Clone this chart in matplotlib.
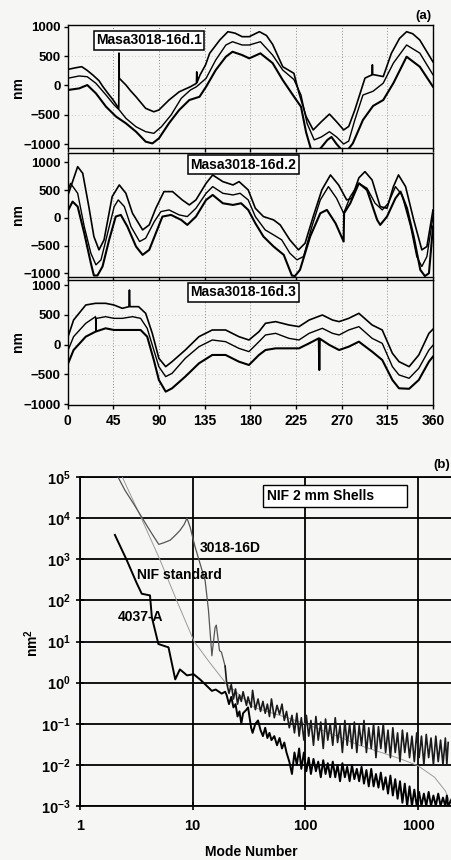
import matplotlib
matplotlib.use("Agg")
import matplotlib.pyplot as plt
from matplotlib.patches import Rectangle

plt.rcParams["font.family"] = ["Liberation Sans", "DejaVu Sans"]
plt.rcParams["font.weight"] = "bold"
plt.rcParams["mathtext.fontset"] = "custom"
plt.rcParams["mathtext.rm"] = "Liberation Sans:bold"
plt.rcParams["mathtext.it"] = "Liberation Sans:bold"
plt.rcParams["mathtext.bf"] = "Liberation Sans:bold"

BG = "#f6f7f5"

# ---- panel (a): three shells, three traces each (nm vs angle in degrees) ----
p1_top_deg = [0, 8, 14, 19, 25, 31, 35, 40, 45, 50.5, 50.7, 51.0, 57.6, 62, 67.5, 77, 85, 90, 100, 110,
              121, 127, 127.3, 127.6, 130.5, 136, 140, 150, 158, 165, 172, 179, 189, 196, 202, 212, 223, 228, 235, 242,
              250, 258, 265, 272, 277, 283, 293, 300, 300.3, 300.6, 311, 319, 327, 334, 340, 347, 353, 360]
p1_top_nm = [270, 300, 318, 260, 176, 80, -24, -140, -250, -392, 550, 120, 5, -90, -195, -392, -450, -420, -250, -110,
             -24, 35, 230, 50, 176, 350, 546, 773, 915, 890, 830, 830, 915, 850, 700, 318, 205, -130, -530, -760,
             -620, -490, -620, -760, -700, -420, 124, 180, 350, 185, 150, 546, 800, 915, 880, 773, 600, 400]
p1_mid_deg = [0, 11.5, 19.5, 28, 38, 46, 51, 57.6, 67.5, 77, 85, 92.5, 102, 112, 121, 127, 136.5, 146, 156, 162.5,
              172, 179, 190, 202, 212, 223, 230, 236, 243, 250, 258, 265, 272, 277, 283, 291, 301, 311, 321, 334,
              347, 360]
p1_mid_nm = [120, 160, 147, 35, -165, -335, -420, -563, -706, -790, -818, -706, -506, -222, -80, -24, 120, 432, 688, 744,
             688, 688, 744, 517, 261, 100, -165, -650, -930, -880, -790, -880, -1000, -950, -590, -165, -100, 38, 380, 688,
             550, 180]
p1_bot_deg = [0, 11.5, 19.5, 28, 38, 48, 57.6, 67.5, 77, 83.6, 90, 100, 110, 120, 130, 136.5, 146, 156, 162.5, 172,
              179, 190, 202, 212, 222, 230, 235, 240, 248, 256, 260, 265, 270, 276, 281, 291, 301, 311, 321, 334,
              347, 360]
p1_bot_nm = [-80, -52, 5, -136, -365, -535, -648, -790, -960, -990, -905, -645, -420, -250, -195, -24, 261, 488, 573, 517,
             460, 546, 380, 90, -165, -365, -800, -1100, -1100, -930, -880, -1000, -1100, -1100, -990, -590, -350, -250, 38, 488,
             318, -24]

p2_top_deg = [0, 10, 15, 21, 26, 31, 36, 44, 51, 57.5, 64, 74, 80.5, 87, 95, 103.5, 113, 120, 126.5, 136.5,
              143, 153, 163, 169, 178, 185, 193, 203, 209.5, 219, 227.5, 234, 242, 250.5, 259, 267, 275, 280, 287, 293,
              300, 308, 314.7, 321, 326, 333, 341, 349, 354, 360]
p2_top_nm = [382, 922, 802, 202, -338, -578, -398, 382, 592, 442, 82, -218, -128, 172, 472, 472, 322, 232, 322, 622,
             772, 652, 592, 652, 502, 172, 22, -38, -128, -398, -578, -458, 22, 502, 772, 592, 322, 352, 720, 832,
             682, 202, 172, 562, 772, 562, -38, -578, -518, 142]
p2_mid_deg = [0, 3, 10, 16.5, 23, 28, 33, 39.5, 46, 50, 56, 62.5, 71, 77, 85.5, 92, 100, 110, 118, 126.5,
              136.5, 143, 153, 163, 170, 178, 185, 194.7, 203, 211, 219, 226, 232.5, 240.7, 249, 257, 265, 272, 278.5, 287,
              295, 303, 310, 316, 323, 329.5, 338, 344, 349, 354, 360]
p2_mid_nm = [472, 622, 442, -158, -638, -848, -758, -278, 202, 322, 202, -158, -428, -368, -68, 112, 142, 52, 22, 172,
             442, 562, 442, 412, 442, 322, 22, -218, -308, -398, -638, -758, -698, -158, 322, 562, 352, 82, 382, 622,
             532, 262, 142, 262, 562, 412, -158, -698, -878, -698, 22]
p2_bot_deg = [0, 5, 10, 16.5, 23, 26, 29.5, 34.5, 41, 47.5, 52.5, 59, 67.5, 74, 80.5, 87, 93.5, 102, 112, 118,
              126.5, 136.5, 143, 153, 163, 171, 178, 185, 193, 203, 213, 221, 224, 229, 239, 249, 255.5, 264, 272, 272.4,
              278.5, 287, 295, 305, 308, 314.7, 323, 328, 334.4, 341, 347.5, 352, 356, 360]
p2_bot_nm = [112, 292, 202, -278, -818, -1040, -1040, -878, -398, 22, 52, -158, -518, -668, -578, -278, 22, 52, -38, -128,
             22, 322, 412, 262, 232, 262, 142, -98, -338, -518, -668, -1040, -1050, -938, -338, 82, 142, -98, -428, 82,
             262, 622, 502, -38, -128, 22, 352, 472, 172, -338, -938, -1050, -1000, -158]

p3_top_deg = [0, 6, 18, 27.6, 37.5, 45.7, 54, 60.5, 61, 61.5, 70, 77, 83.5, 90, 96.7, 103, 116, 129.5, 142.6, 155.7,
              168.8, 178.7, 188.6, 195, 205, 218, 228, 238, 251, 261, 267.5, 277, 287, 300, 310, 320, 326.5, 336.5, 346, 356,
              360]
p3_top_nm = [106, 413, 665, 693, 693, 665, 609, 637, 916, 637, 637, 525, 190, -229, -369, -285, -90, 134, 246, 246,
             134, 78, 218, 358, 386, 330, 302, 413, 497, 413, 386, 441, 525, 330, 246, -145, -285, -369, -173, 190,
             260]
p3_mid_deg = [0, 6, 18, 27.6, 28, 28.4, 37.5, 45.7, 54, 64, 72, 78.5, 85, 90, 96.7, 103, 116, 129.5, 142.6, 155.7,
              168.8, 178.7, 188.6, 195, 205, 218, 228, 238, 251, 261, 267.5, 277, 287, 300, 310, 320, 326.5, 336.5, 346, 356,
              360]
p3_mid_nm = [-117, 134, 358, 469, 230, 440, 469, 441, 441, 469, 441, 274, -90, -369, -536, -481, -229, -34, 78, 50,
             -62, -117, 50, 162, 190, 106, 78, 190, 274, 190, 162, 246, 302, 106, 22, -369, -508, -564, -397, -90,
             -10]
p3_bot_deg = [0, 6, 18, 27.6, 37.5, 45.7, 54, 64, 72, 78.5, 85, 90, 96.7, 103, 116, 129.5, 142.6, 155.7, 168.8, 178.7,
              188.6, 195, 205, 218, 228, 238, 247.5, 248, 248.5, 258, 267.5, 277, 287, 300, 310, 320, 326.5, 336.5, 346, 356,
              360]
p3_bot_nm = [-341, -90, 134, 218, 274, 246, 246, 246, 246, 134, -257, -592, -788, -732, -536, -313, -173, -173, -285, -341,
             -173, -90, -62, -62, -62, 22, 106, -425, 100, -6, -90, -34, 50, -117, -257, -592, -732, -740, -592, -285,
             -200]

shell_names = ["Masa3018-16d.1", "Masa3018-16d.2", "Masa3018-16d.3"]
angle_ticks = [0, 45, 90, 135, 180, 225, 270, 315, 360]
nm_ticks = [-1000, -500, 0, 500, 1000]

# ---- panel (b): power spectra (nm^2 vs mode number) ----
s3018_low_modes = [2.1, 2.5, 3.0, 3.5, 4.0, 4.5, 5.0, 5.5, 6.3, 7.0, 7.7, 8.4, 8.9, 9.5, 10.5, 11.6, 12.9, 13.8,
                   14.8, 15.8, 16.2, 17.3, 18.0, 19.4]
s3018_low = [1.2e5, 4.8e4, 2.2e4, 1.1e4, 6.0e3, 3.6e3, 2.3e3, 2.5e3, 2.9e3, 3.8e3, 5.0e3, 7.0e3, 1.0e4, 6.0e3,
             2.0e3, 8.0e2, 3.0e2, 58, 4.5, 22, 25, 6.0, 5.5, 2.5]
a4037_low_modes = [2.04, 2.6, 3.19, 3.53, 4.18, 4.34, 4.96, 6.1, 7.0, 7.7, 8.9, 10.2, 11.6, 12.8, 14.8, 16.0, 18.1, 19.4]
a4037_low = [3.9e3, 9.5e2, 2.6e2, 1.45e2, 1.32e2, 39, 8.7, 7.2, 1.2, 2.1, 1.5, 1.6, 1.2, 0.93, 0.63, 0.68, 0.54, 0.6]

band_modes = [20, 21, 22, 23, 24, 25, 26, 27, 28, 30, 31, 33, 34, 36, 38, 40, 42, 44, 46, 48,
              50, 53, 56, 59, 62, 65, 68, 72, 76, 80, 84, 88, 92, 97, 102, 107, 112, 118, 124, 130,
              137, 144, 151, 158, 166, 175, 184, 193, 203, 213, 224, 235, 247, 259, 272, 286, 300, 315, 331, 348,
              365, 384, 403, 423, 445, 467, 491, 515, 541, 568, 597, 627, 658, 691, 726, 762, 800, 840, 882, 926,
              973, 1021, 1072, 1126, 1182, 1241, 1303, 1368, 1437, 1509, 1584, 1663, 1746, 1800, 1850, 1990]
s3018_band = [1.0, 0.55, 0.9, 0.4, 0.7, 0.3, 0.5, 0.35, 0.6, 0.28, 0.45, 0.25, 0.65, 0.22, 0.4, 0.2, 0.35, 0.18, 0.3, 0.15,
              0.4, 0.14, 0.28, 0.17, 0.3, 0.12, 0.2, 0.08, 0.16, 0.06, 0.18, 0.05, 0.14, 0.04, 0.16, 0.05, 0.12, 0.03, 0.15, 0.04,
              0.11, 0.025, 0.13, 0.04, 0.1, 0.03, 0.14, 0.035, 0.09, 0.02, 0.12, 0.03, 0.1, 0.025, 0.11, 0.02, 0.09, 0.03, 0.12, 0.02,
              0.08, 0.025, 0.1, 0.015, 0.085, 0.025, 0.1, 0.02, 0.07, 0.015, 0.08, 0.02, 0.06, 0.012, 0.07, 0.02, 0.06, 0.015, 0.05, 0.012,
              0.06, 0.015, 0.05, 0.01, 0.055, 0.015, 0.045, 0.01, 0.05, 0.012, 0.04, 0.01, 0.045, 0.01, 0.035]
a4037_band = [0.5, 0.3, 0.45, 0.25, 0.3, 0.15, 0.2, 0.1, 0.18, 0.22, 0.25, 0.08, 0.06, 0.1, 0.12, 0.07, 0.05, 0.08, 0.045, 0.06,
              0.04, 0.05, 0.03, 0.045, 0.025, 0.035, 0.02, 0.012, 0.006, 0.02, 0.01, 0.025, 0.008, 0.02, 0.007, 0.015, 0.006, 0.014, 0.007, 0.012,
              0.005, 0.013, 0.006, 0.011, 0.005, 0.012, 0.005, 0.01, 0.004, 0.011, 0.005, 0.009, 0.004, 0.01, 0.0045, 0.008, 0.004, 0.009, 0.0035, 0.0075,
              0.003, 0.008, 0.003, 0.006, 0.0028, 0.0065, 0.0025, 0.005, 0.002, 0.0055, 0.0018, 0.0045, 0.0015, 0.004, 0.0012, 0.0035, 0.001, 0.003, 0.001, 0.0025,
              0.001, 0.0022, 0.001, 0.002, 0.001, 0.0022, 0.001, 0.0018, 0.001, 0.002, 0.001, 0.0016, 0.001, 0.0018, 0.001, 0.0015]
nif_modes = [2.3, 3.5, 5.1, 7.2, 10.3, 14, 19.5, 35, 69, 100, 150, 200, 300, 500, 700, 1000, 1400, 1750, 1950]
nif_std = [1.2e5, 1.0e4, 1.0e3, 1.0e2, 10, 3.2, 1.0, 0.25, 0.14, 0.1, 0.065, 0.048, 0.03, 0.019, 0.014, 0.0095,
           0.005, 0.0023, 0.0011]

decades = [1e-3, 1e-2, 1e-1, 1e0, 1e1, 1e2, 1e3, 1e4, 1e5]
decade_labels = [r"$10^{-3}$", r"$10^{-2}$", r"$10^{-1}$", r"$10^{0}$", r"$10^{1}$", r"$10^{2}$",
                 r"$10^{3}$", r"$10^{4}$", r"$10^{5}$"]
mode_ticks = [1, 10, 100, 1000]


W, H = 452, 860


def box(left, top, right, bottom):
    # pixel box -> figure fraction rect
    return [left / W, 1 - bottom / H, (right - left) / W, (bottom - top) / H]


def shell_panel(fig, rect, ylim, traces, name, label_xy, last):
    ax = fig.add_axes(rect)
    ax.set_facecolor(BG)
    for deg, nm, lw in traces:
        ax.plot(deg, nm, color="black", lw=lw, solid_joinstyle="round")
    ax.set_xlim(0, 360)
    ax.set_ylim(*ylim)
    ax.set_xticks(angle_ticks)
    ax.set_yticks(nm_ticks)
    for v in angle_ticks[1:-1]:
        ax.axvline(v, color="#8a8a8a", lw=0.7, ls=(0, (1, 2)), zorder=0)
    for v in [-500, 0, 500]:
        ax.axhline(v, color="#bdbdbd", lw=0.6, ls=(0, (1, 3)), zorder=0)
    ax.tick_params(axis="y", labelsize=9.5, length=3, width=1, pad=2)
    ax.tick_params(axis="x", labelsize=10, length=3, width=1, labelbottom=last)
    for s in ax.spines.values():
        s.set_linewidth(1.0)
    ax.text(*label_xy, name, transform=ax.transAxes, ha="center", va="center", fontsize=10,
            bbox=dict(boxstyle="square,pad=0.18", facecolor="white", edgecolor="black", lw=1.1))
    return ax


def main():
    fig = plt.figure(figsize=(W / 100, H / 100), dpi=100)
    fig.patch.set_facecolor(BG)

    shell_panel(fig, box(67.5, 25, 433, 148), (-1068, 1029),
                [(p1_top_deg, p1_top_nm, 1.2), (p1_mid_deg, p1_mid_nm, 1.0), (p1_bot_deg, p1_bot_nm, 1.5)],
                shell_names[0], (0.223, 0.878), False)
    shell_panel(fig, box(67.5, 153, 433, 277), (-1067, 1168),
                [(p2_top_deg, p2_top_nm, 1.2), (p2_mid_deg, p2_mid_nm, 1.0), (p2_bot_deg, p2_bot_nm, 1.5)],
                shell_names[1], (0.481, 0.907), False)
    shell_panel(fig, box(67.5, 280, 433, 405), (-1012, 1084),
                [(p3_top_deg, p3_top_nm, 1.2), (p3_mid_deg, p3_mid_nm, 1.0), (p3_bot_deg, p3_bot_nm, 1.5)],
                shell_names[2], (0.481, 0.9), True)
    for yc in [88, 215, 342]:
        fig.text(18 / W, 1 - yc / H, "nm", rotation=90, ha="center", va="center", fontsize=10)
    fig.text(423 / W, 1 - 16 / H, "(a)", ha="center", va="center", fontsize=9.5)

    # ---- (b) ----
    ax = fig.add_axes(box(80, 477, 452, 806))
    ax.set_facecolor(BG)
    ax.set_xscale("log")
    ax.set_yscale("log")
    ax.set_xlim(1, 2000)
    ax.set_ylim(1e-3, 1e5)
    ax.plot(nif_modes, nif_std, color="#9a9a9a", lw=0.7, zorder=3)
    ax.plot(s3018_low_modes, s3018_low, color="#555555", lw=0.9, zorder=4)
    n3018 = len(s3018_band)
    ax.plot(s3018_low_modes[-1:] + band_modes[:n3018], s3018_low[-1:] + s3018_band,
            color="#1a1a1a", lw=1.2, zorder=4)
    ax.plot(a4037_low_modes + band_modes, a4037_low + a4037_band, color="black", lw=1.4, zorder=5)
    ax.set_xticks(mode_ticks, ["1", "10", "100", "1000"])
    ax.set_yticks(decades, decade_labels)
    ax.minorticks_off()
    ax.grid(True, which="major", color="black", lw=1.3)
    ax.set_axisbelow(True)
    ax.tick_params(axis="both", labelsize=10.5, direction="inout", length=6, width=1.2)
    ax.tick_params(axis="x", pad=6)
    ax.spines["right"].set_visible(False)
    for s in ["left", "top", "bottom"]:
        ax.spines[s].set_linewidth(1.3)

    ax.add_patch(Rectangle((0.492, 0.909), 0.387, 0.067, transform=ax.transAxes,
                           facecolor="white", edgecolor="black", lw=1.0, zorder=6))
    ax.text(0.503, 0.942, "NIF 2 mm Shells", transform=ax.transAxes, ha="left", va="center",
            fontsize=10, zorder=7)
    ax.text(0.3226, 0.784, "3018-16D", transform=ax.transAxes, ha="left", va="center", fontsize=10, zorder=7)
    ax.text(0.153, 0.702, "NIF standard", transform=ax.transAxes, ha="left", va="center", fontsize=10, zorder=7)
    ax.text(0.102, 0.574, "4037-A", transform=ax.transAxes, ha="left", va="center", fontsize=10, zorder=7)

    fig.text(251 / W, 1 - 852 / H, "Mode Number", ha="center", va="center", fontsize=10)
    fig.text(32 / W, 1 - 643 / H, r"nm$^2$", rotation=90, ha="center", va="center", fontsize=10)
    fig.text(442 / W, 1 - 465 / H, "(b)", ha="center", va="center", fontsize=9.5)

    fig.savefig("out.png", dpi=100, facecolor=BG)
    plt.close(fig)


if __name__ == "__main__":
    main()
